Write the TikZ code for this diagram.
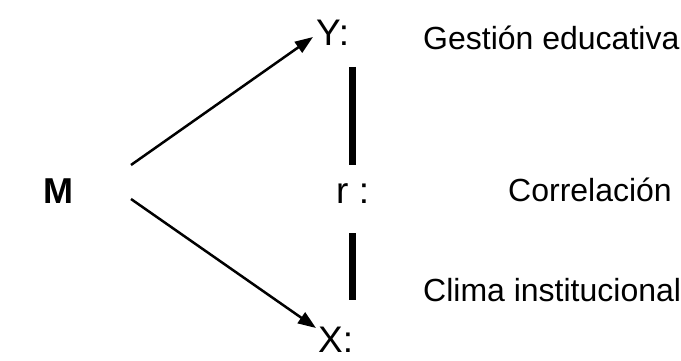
\documentclass[tikz,border=0pt]{standalone}
\usepackage{fontspec}
\setmainfont{Liberation Sans}
\usetikzlibrary{arrows.meta}
\begin{document}
\begin{tikzpicture}[x=1pt,y=-1pt,
 lbl/.style={inner sep=0pt, anchor=base west, font=\fontsize{32}{36}\selectfont},
 var/.style={inner sep=0pt, anchor=base west, font=\fontsize{37}{41}\selectfont},
 arr/.style={line width=2.5pt, -{Triangle[length=18pt,width=13pt]}},
 bar/.style={line width=7pt}]
\useasboundingbox[fill=white] (0,0) rectangle (681,361);
\node[var, font=\fontsize{36}{40}\selectfont\bfseries] (m) at (43,204) {M};
\node[var] (y) at (316,46) {Y:};
\node[var] (r) at (336,204) {r :};
\node[var] (x) at (318,352) {X:};
\coordinate (m1) at (131,165);
\coordinate (m2) at (131,199);
\coordinate (yt) at (313,37);
\coordinate (xt) at (316,328);
\draw[arr] (m1) -- (yt);
\draw[arr] (m2) -- (xt);
\coordinate (b1) at (352,67);
\coordinate (b2) at (352,165);
\coordinate (b3) at (352,233);
\coordinate (b4) at (352,300);
\draw[bar] (b1) -- (b2);
\draw[bar] (b3) -- (b4);
\node[lbl] (g) at (423,50) {Gestión educativa};
\node[lbl] (c) at (508,201) {Correlación};
\node[lbl] (cl) at (423,301) {Clima institucional};
\end{tikzpicture}
\end{document}
